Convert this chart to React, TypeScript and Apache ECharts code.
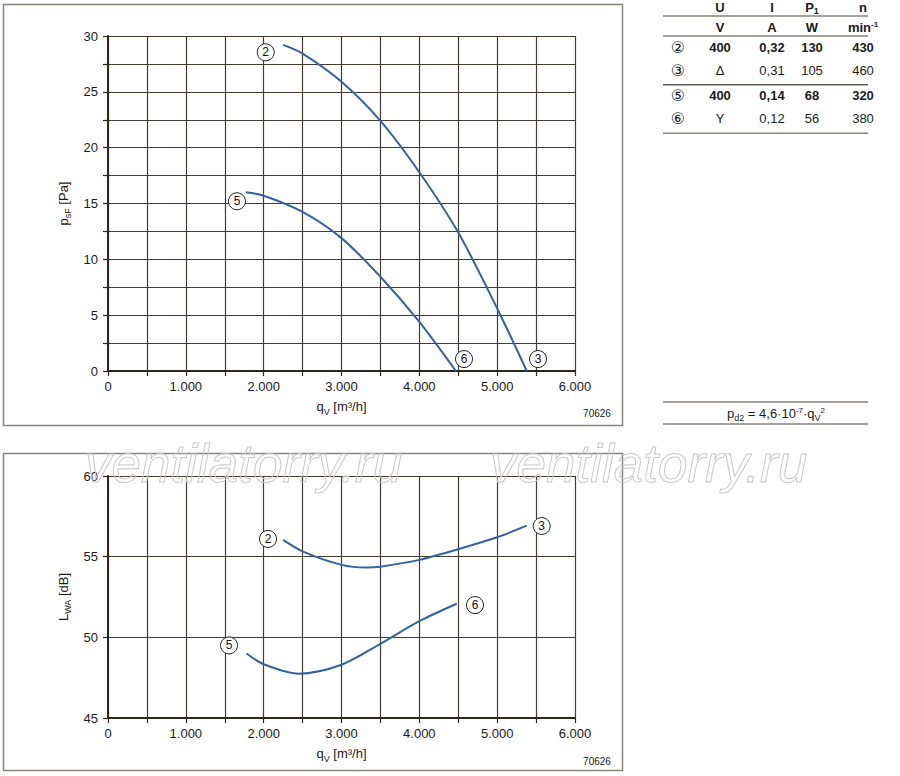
import React, { useEffect, useRef } from "react";
import * as echarts from "echarts";

const FONT = '"Liberation Sans", Arial, Helvetica, sans-serif';

// Pressure chart (p_sF vs q_V)
const flowP23 = [2250, 2500, 3000, 3500, 4000, 4500, 5000, 5380];
const pres23 = [29.2, 28.42, 25.9, 22.4, 17.8, 12.4, 5.6, 0];
const flowP56 = [1770, 2000, 2500, 3000, 3500, 4000, 4470];
const pres56 = [16.0, 15.7, 14.25, 11.9, 8.44, 4.4, 0];

// Sound power chart (L_WA vs q_V)
const flowL23 = [2250, 2500, 3000, 3320, 3500, 4000, 4500, 5000, 5380];
const level23 = [56.04, 55.33, 54.49, 54.33, 54.38, 54.8, 55.46, 56.2, 56.92];
const flowL56 = [1780, 2000, 2450, 3000, 3500, 4000, 4480];
const level56 = [49.0, 48.33, 47.75, 48.3, 49.6, 51.0, 52.08];

// curve tags (data coordinates)
const tagsP23 = [{ name: "2", coord: [2026, 28.54] }, { name: "3", coord: [5525, 1.07] }];
const tagsP56 = [{ name: "5", coord: [1657, 15.2] }, { name: "6", coord: [4574, 1.07] }];
const tagsL23 = [{ name: "2", coord: [2056, 56.1] }, { name: "3", coord: [5572, 56.9] }];
const tagsL56 = [{ name: "5", coord: [1555, 49.5] }, { name: "6", coord: [4715, 52.0] }];

// table
const tableHead = ["U", "I", "P{sub|1}", "n"];
const tableUnits = ["V", "A", "W", "min{sup|-1}"];
const tableRows = [
  { tag: "②", vals: ["400", "0,32", "130", "430"], bold: true },
  { tag: "③", vals: ["Δ", "0,31", "105", "460"], bold: false },
  { tag: "⑤", vals: ["400", "0,14", "68", "320"], bold: true },
  { tag: "⑥", vals: ["Y", "0,12", "56", "380"], bold: false },
];

const LINE_COLOR = "#3461a0";
const GRID_COLOR = "#463c2f";
const AXIS_COLOR = "#2e261b";
const TEXT_COLOR = "#1b1b1b";

const zip = (a: number[], b: number[]) => a.map((v, i) => [v, b[i]]);

const richSub = {
  sub: { fontSize: 9, fontFamily: FONT, color: TEXT_COLOR, verticalAlign: "bottom", lineHeight: 12, padding: [0, 0, -3, 0] },
  sup: { fontSize: 9, fontFamily: FONT, color: TEXT_COLOR, verticalAlign: "top", lineHeight: 12 },
};

function xAxis(gridIndex: number) {
  return {
    type: "value",
    gridIndex,
    min: 0,
    max: 6000,
    interval: 500,
    name: "q{sub|V} [m³/h]",
    nameLocation: "middle",
    nameGap: 29,
    nameTextStyle: { fontSize: 13, fontFamily: FONT, color: TEXT_COLOR, rich: richSub },
    axisLine: { show: true, onZero: false, lineStyle: { color: AXIS_COLOR, width: 2 } },
    axisTick: { show: true, length: 5, lineStyle: { color: AXIS_COLOR, width: 1.2 } },
    axisLabel: {
      margin: 9,
      fontSize: 13,
      fontFamily: FONT,
      color: TEXT_COLOR,
      formatter: (v: number) => (v % 1000 === 0 ? (v === 0 ? "0" : `${v / 1000}.000`) : ""),
    },
    splitLine: { show: true, lineStyle: { color: GRID_COLOR, width: 1.2 } },
  };
}

function tagMarks(tags: { name: string; coord: number[] }[]) {
  return {
    symbol: "circle",
    symbolSize: 17,
    silent: true,
    itemStyle: { color: "#ffffff", borderColor: "#222222", borderWidth: 1 },
    label: { show: true, position: "inside", formatter: (p: any) => p.name, color: "#111", fontSize: 12, fontFamily: FONT },
    data: tags.map((t) => ({ name: t.name, coord: t.coord })),
  };
}

function lineSeries(xi: number, data: number[][], tags: any) {
  return {
    type: "line",
    xAxisIndex: xi,
    yAxisIndex: xi,
    data,
    smooth: 0.3,
    showSymbol: false,
    lineStyle: { color: LINE_COLOR, width: 2 },
    itemStyle: { color: LINE_COLOR },
    markPoint: tagMarks(tags),
  };
}

function buildGraphics() {
  const g: any[] = [];
  // frames
  g.push({ type: "rect", shape: { x: 3.5, y: 4.5, width: 619, height: 421 }, style: { fill: "none", stroke: "#8a8378", lineWidth: 1.5 }, z: 1 });
  g.push({ type: "rect", shape: { x: 3.5, y: 453.5, width: 619, height: 317 }, style: { fill: "none", stroke: "#8a8378", lineWidth: 1.5 }, z: 1 });
  // drawing numbers
  g.push({ type: "text", x: 597, y: 413, style: { text: "70626", font: `10px ${FONT}`, fill: TEXT_COLOR, align: "center", verticalAlign: "middle" } });
  g.push({ type: "text", x: 597, y: 761, style: { text: "70626", font: `10px ${FONT}`, fill: TEXT_COLOR, align: "center", verticalAlign: "middle" } });
  // table lines
  [16, 36, 84.7, 133.3].forEach((y) => {
    g.push({ type: "line", shape: { x1: 663, y1: y, x2: 868, y2: y }, style: { stroke: y === 84.7 ? "#5f5a52" : "#8a8478", lineWidth: 1.5 } });
  });
  const cols = [720, 772, 812, 863];
  const richT = {
    sub: { fontSize: 9, fontFamily: FONT, fontWeight: "bold", color: TEXT_COLOR, verticalAlign: "bottom", lineHeight: 17 },
    sup: { fontSize: 8, fontFamily: FONT, fontWeight: "bold", color: TEXT_COLOR, verticalAlign: "top", lineHeight: 13 },
  };
  tableHead.forEach((t, i) => {
    g.push({ type: "text", x: cols[i], y: 7, style: { text: t, font: `bold 13px ${FONT}`, fill: TEXT_COLOR, align: "center", verticalAlign: "middle", rich: richT } });
  });
  tableUnits.forEach((t, i) => {
    g.push({ type: "text", x: cols[i], y: 27, style: { text: t, font: `bold 13px ${FONT}`, fill: TEXT_COLOR, align: "center", verticalAlign: "middle", rich: richT } });
  });
  const rowY = [47.3, 70.7, 95, 118.3];
  tableRows.forEach((r, ri) => {
    g.push({ type: "text", x: 678, y: rowY[ri], style: { text: r.tag, font: `16px "DejaVu Sans", ${FONT}`, fill: TEXT_COLOR, align: "center", verticalAlign: "middle" } });
    r.vals.forEach((v, ci) => {
      g.push({ type: "text", x: cols[ci], y: rowY[ri], style: { text: v, font: `${r.bold ? "bold " : ""}13px ${FONT}`, fill: TEXT_COLOR, align: "center", verticalAlign: "middle" } });
    });
  });
  // formula
  [402, 424].forEach((y) => {
    g.push({ type: "line", shape: { x1: 663, y1: y, x2: 868, y2: y }, style: { stroke: "#8a8478", lineWidth: 1.5 } });
  });
  g.push({
    type: "text", x: 776, y: 413,
    style: {
      text: "p{sub|d2} = 4,6·10{sup|-7}·q{sub|V}{sup|2}",
      font: `13px ${FONT}`, fill: TEXT_COLOR, align: "center", verticalAlign: "middle",
      rich: {
        sub: { fontSize: 9, fontFamily: FONT, color: TEXT_COLOR, verticalAlign: "bottom", lineHeight: 14, padding: [0, 0, -2, 0] },
        sup: { fontSize: 8, fontFamily: FONT, color: TEXT_COLOR, verticalAlign: "top", lineHeight: 14 },
      },
    },
  });
  // watermarks
  [85, 490].forEach((x) => {
    g.push({ type: "text", x, y: 437, z: 100, silent: true, style: { text: "ventilatorry.ru", font: `italic 53px ${FONT}`, fill: "rgba(255,255,255,0)", stroke: "#c8c8c8", lineWidth: 1, align: "left", verticalAlign: "top" } });
  });
  return g;
}

export default function App() {
  const ref = useRef<HTMLDivElement>(null);
  useEffect(() => {
    const chart = echarts.init(ref.current!, null, { renderer: "svg", width: 900, height: 776 });
    const option: any = {
      animation: false,
      backgroundColor: "#ffffff",
      grid: [
        { left: 108, top: 36, width: 467, height: 335 },
        { left: 108, top: 476, width: 467, height: 242 },
      ],
      xAxis: [xAxis(0), xAxis(1)],
      yAxis: [
        {
          type: "value", gridIndex: 0, min: 0, max: 30, interval: 2.5,
          name: "p{sub|sF} [Pa]", nameLocation: "middle", nameGap: 33,
          nameTextStyle: { fontSize: 13, fontFamily: FONT, color: TEXT_COLOR, rich: richSub },
          axisLine: { show: true, lineStyle: { color: AXIS_COLOR, width: 2 } },
          axisTick: { show: true, length: 5, lineStyle: { color: AXIS_COLOR, width: 1.2 } },
          axisLabel: { margin: 10, fontSize: 13, fontFamily: FONT, color: TEXT_COLOR, formatter: (v: number) => (v % 5 === 0 ? String(v) : "") },
          splitLine: { show: true, lineStyle: { color: GRID_COLOR, width: 1.2 } },
        },
        {
          type: "value", gridIndex: 1, min: 45, max: 60, interval: 5,
          name: "L{sub|WA} [dB]", nameLocation: "middle", nameGap: 33,
          nameTextStyle: { fontSize: 13, fontFamily: FONT, color: TEXT_COLOR, rich: richSub },
          axisLine: { show: true, lineStyle: { color: AXIS_COLOR, width: 2 } },
          axisTick: { show: true, length: 5, lineStyle: { color: AXIS_COLOR, width: 1.2 } },
          axisLabel: { margin: 10, fontSize: 13, fontFamily: FONT, color: TEXT_COLOR },
          splitLine: { show: true, lineStyle: { color: GRID_COLOR, width: 1.2 } },
        },
      ],
      series: [
        lineSeries(0, zip(flowP23, pres23), tagsP23),
        lineSeries(0, zip(flowP56, pres56), tagsP56),
        lineSeries(1, zip(flowL23, level23), tagsL23),
        lineSeries(1, zip(flowL56, level56), tagsL56),
      ],
      graphic: buildGraphics(),
    };
    chart.setOption(option);
    return () => chart.dispose();
  }, []);
  return <div ref={ref} style={{ position: "absolute", left: 0, top: 0, width: 900, height: 776 }} />;
}
